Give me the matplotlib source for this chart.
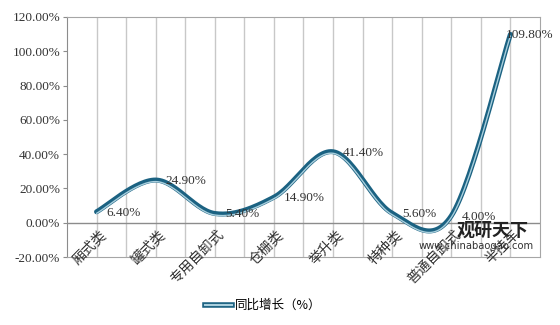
import matplotlib.pyplot as plt
import numpy as np
from matplotlib.lines import Line2D
from matplotlib.legend_handler import HandlerTuple

plt.rcParams['font.family'] = ['Liberation Serif', 'Noto Sans CJK SC']

# -------------------------------
# Data
# -------------------------------
categories = ["厢式类", "罐式类", "专用自卸式", "仓栅类", "举升类", "特种类", "普通自卸式", "半挂车"]
growth = [6.40, 24.90, 5.40, 14.90, 41.40, 5.60, 4.00, 109.80]
yticks = [-20, 0, 20, 40, 60, 80, 100, 120]

dark = "#1b6282"
light = "#a9cfdd"


def smooth(xs, ys, n=30):
    # Excel-like smoothed line (bezier through every point)
    xs = np.asarray(xs, float)
    ys = np.asarray(ys, float)
    px = np.concatenate([[xs[0]], xs, [xs[-1]]])
    py = np.concatenate([[ys[0]], ys, [ys[-1]]])
    out_x, out_y = [], []
    t = np.linspace(0, 1, n)
    for i in range(1, len(px) - 2):
        p0 = np.array([px[i], py[i]])
        p3 = np.array([px[i + 1], py[i + 1]])
        c1 = p0 + (np.array([px[i + 1], py[i + 1]]) - np.array([px[i - 1], py[i - 1]])) / 6
        c2 = p3 - (np.array([px[i + 2], py[i + 2]]) - np.array([px[i], py[i]])) / 6
        pts = ((1 - t)[:, None] ** 3 * p0 + 3 * ((1 - t) ** 2 * t)[:, None] * c1
               + 3 * ((1 - t) * t ** 2)[:, None] * c2 + (t ** 3)[:, None] * p3)
        out_x.extend(pts[:, 0])
        out_y.extend(pts[:, 1])
    return np.array(out_x), np.array(out_y)


fig = plt.figure(figsize=(5.6, 3.25), dpi=100)
ax = fig.add_axes([0.1196, 0.209, 0.8446, 0.739])

x = np.arange(len(categories)) + 0.5
sx, sy = smooth(x, growth)

ax.plot(sx, sy, color=dark, lw=3.6, solid_capstyle='round', zorder=3)
ax.plot(sx, sy - 0.9, color=light, lw=1.0, solid_capstyle='round', zorder=4)

ax.set_xlim(0, len(categories))
ax.set_ylim(-20, 120)
ax.set_yticks(yticks)
ax.set_yticklabels([f"{v:.2f}%" for v in yticks], fontsize=9.5, color="#333333")
ax.set_xticks([])

for xv in np.arange(0.5, len(categories), 0.5):
    ax.axvline(xv, color="#c8c8c8", lw=1, zorder=1)
ax.axhline(0, color="#8c8c8c", lw=1, zorder=2)

for s in ax.spines.values():
    s.set_color("#a6a6a6")
ax.spines['left'].set_color("#8c8c8c")
ax.tick_params(axis='y', length=3, color="#8c8c8c", pad=2)

# category labels hang from the zero line
for xi, name in zip(x, categories):
    ax.text(xi + 0.05, -3, name, rotation=45, ha='right', va='top',
            rotation_mode='anchor', fontsize=10, color="#333333", zorder=5)

# data labels
for i, (xi, v) in enumerate(zip(x, growth)):
    dx = 0.17 if i < len(growth) - 1 else -0.08
    ax.text(xi + dx, v - 0.5, f"{v:.2f}%", ha='left', va='center',
            fontsize=9.5, color="#333333", zorder=6)

# watermark
ax.text(6.6, -4.7, "观研天下", fontsize=13, fontweight='bold', color="#222222",
        ha='left', va='center', zorder=7)
ax.text(5.94, -13.4, "www.chinabaogao.com", fontsize=7.2, color="#333333",
        family='DejaVu Sans', ha='left', va='center', zorder=7)

h1 = Line2D([], [], color=dark, lw=4)
h2 = Line2D([], [], color=light, lw=1.5)
fig.legend([(h1, h2)], ["同比增长（%）"], handler_map={tuple: HandlerTuple(ndivide=1)},
           loc='center', bbox_to_anchor=(0.47, 0.06), frameon=False,
           handlelength=2.2, handletextpad=0.2,
           prop={'family': ['Noto Sans CJK SC'], 'size': 9})

fig.savefig("out.png", dpi=100)
